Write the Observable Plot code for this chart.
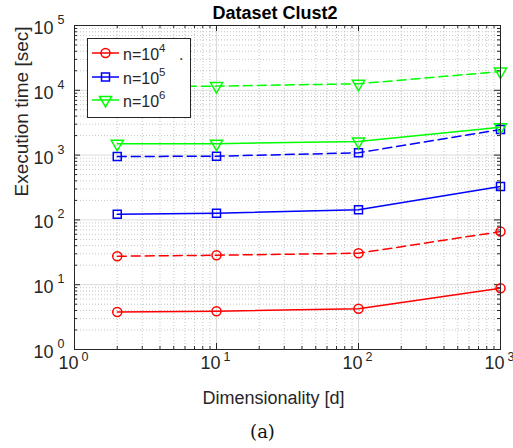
<!DOCTYPE html>
<html>
<head>
<meta charset="utf-8">
<script src="https://cdn.jsdelivr.net/npm/d3@7"></script>
<script src="https://cdn.jsdelivr.net/npm/@observablehq/plot@0.6"></script>
<style>
  html, body { margin: 0; padding: 0; background: #fff; }
  #chart svg { display: block; }
</style>
</head>
<body>
<div id="chart"></div>
<script>
// ---- data ----
const dims = [2, 10, 100, 1000];
const n4Solid  = [3.8, 3.9, 4.25, 8.8];
const n4Dashed = [27.5, 28.5, 30.6, 66];
const n5Solid  = [122, 127, 143, 327];
const n5Dashed = [951, 962, 1085, 2480];
const n6Solid  = [1494, 1500, 1622, 2690];
const n6Dashed = [11300, 11600, 12600, 19500];
const seriesColors = ["#ff0000", "#0000ff", "#00ff00"];
const seriesSymbols = ["circle", "square", "triangle"];
const legendExponents = ["4", "5", "6"];
const legendSuffix = [".", "", ""];
const xTicks = [1, 10, 100, 1000];
const yTicks = [1, 10, 100, 1000, 10000, 100000];
const titleText = "Dataset Clust2";
const xLabel = "Dimensionality [d]";
const yLabel = "Execution time [sec]";
const captionText = "(a)";

const series = [
  {values: n4Solid,  ci: 0, dashed: false},
  {values: n4Dashed, ci: 0, dashed: true},
  {values: n5Solid,  ci: 1, dashed: false},
  {values: n5Dashed, ci: 1, dashed: true},
  {values: n6Solid,  ci: 2, dashed: false},
  {values: n6Dashed, ci: 2, dashed: true}
];

const minor = (ticks) => {
  const out = [];
  for (const t of ticks.slice(0, -1)) for (let k = 2; k <= 9; k++) out.push(t * k);
  return out;
};
const xMinor = minor(xTicks);
const yMinor = minor(yTicks);

const W = 513, H = 448;
const mL = 74, mR = 13, mT = 25, mB = 99;
const fw = W - mL - mR, fh = H - mT - mB;
const axisColor = "#262626";
const sans = "'Liberation Sans', Arial, Helvetica, sans-serif";

const dataMarks = [];
for (const s of series) {
  const rows = dims.map((d, i) => ({x: d, y: s.values[i]}));
  const color = seriesColors[s.ci];
  const sym = seriesSymbols[s.ci];
  dataMarks.push(Plot.line(rows, {x: "x", y: "y", stroke: color, strokeWidth: 1.5,
    strokeDasharray: s.dashed ? "9,5" : null}));
  dataMarks.push(Plot.dot(rows, {x: "x", y: "y", symbol: sym, r: 4.5, stroke: color,
    fill: "none", strokeWidth: 1.5, rotate: sym === "triangle" ? 180 : 0}));
}

const chart = Plot.plot({
  width: W, height: H,
  marginLeft: mL, marginRight: mR, marginTop: mT, marginBottom: mB,
  style: {fontFamily: sans, background: "#fff", overflow: "visible"},
  x: {type: "log", domain: [1, 1000], axis: null},
  y: {type: "log", domain: [1, 100000], axis: null},
  marks: [
    // grids
    Plot.gridX(xMinor, {stroke: "#b8b8b8", strokeOpacity: 1, strokeWidth: 0.8, strokeDasharray: "1,2"}),
    Plot.gridY(yMinor, {stroke: "#b8b8b8", strokeOpacity: 1, strokeWidth: 0.8, strokeDasharray: "1,2"}),
    Plot.gridX(xTicks, {stroke: "#dadada", strokeOpacity: 1, strokeWidth: 1}),
    Plot.gridY(yTicks, {stroke: "#dadada", strokeOpacity: 1, strokeWidth: 1}),
    // inward ticks
    Plot.tickX(xTicks, {x: d => d, insetTop: fh - 6, stroke: axisColor}),
    Plot.tickX(xTicks, {x: d => d, insetBottom: fh - 6, stroke: axisColor}),
    Plot.tickX(xMinor, {x: d => d, insetTop: fh - 3, stroke: axisColor}),
    Plot.tickX(xMinor, {x: d => d, insetBottom: fh - 3, stroke: axisColor}),
    Plot.tickY(yTicks, {y: d => d, insetRight: fw - 6, stroke: axisColor}),
    Plot.tickY(yTicks, {y: d => d, insetLeft: fw - 6, stroke: axisColor}),
    Plot.tickY(yMinor, {y: d => d, insetRight: fw - 3, stroke: axisColor}),
    Plot.tickY(yMinor, {y: d => d, insetLeft: fw - 3, stroke: axisColor}),
    // data
    ...dataMarks,
    // frame
    Plot.frame({stroke: axisColor, strokeWidth: 1}),
    // tick labels x
    Plot.text(xTicks, {x: d => d, text: () => "10", frameAnchor: "bottom", textAnchor: "end",
      lineAnchor: "bottom", dx: 4, dy: 19, fontSize: 18, fill: axisColor}),
    Plot.text(xTicks, {x: d => d, text: d => String(Math.round(Math.log10(d))), frameAnchor: "bottom",
      textAnchor: "start", lineAnchor: "bottom", dx: 7, dy: 11, fontSize: 12.5, fill: axisColor}),
    // tick labels y
    Plot.text(yTicks, {y: d => d, text: () => "10", frameAnchor: "left", textAnchor: "end",
      lineAnchor: "bottom", dx: -21, dy: 8.5, fontSize: 18, fill: axisColor}),
    Plot.text(yTicks, {y: d => d, text: d => String(Math.round(Math.log10(d))), frameAnchor: "left",
      textAnchor: "start", lineAnchor: "bottom", dx: -17, dy: -1.5, fontSize: 12.5, fill: axisColor}),
    // axis labels
    Plot.text([xLabel], {text: d => d, frameAnchor: "bottom", lineAnchor: "bottom", dx: -14, dy: 54,
      fontSize: 18, fill: axisColor}),
    Plot.text([yLabel], {text: d => d, frameAnchor: "left", lineAnchor: "bottom", rotate: -90,
      dx: -47, dy: 9, fontSize: 19, fill: axisColor}),
    // title
    Plot.text([titleText], {text: d => d, frameAnchor: "top", lineAnchor: "bottom", dx: -12.5, dy: -7,
      fontSize: 18, fontWeight: "bold", fill: "#000"}),
    // caption
    Plot.text([captionText], {text: d => d, frameAnchor: "bottom", lineAnchor: "bottom", dx: -25, dy: 88,
      fontSize: 18, fontFamily: "DejaVu Serif", fill: "#111"})
  ]
});

document.getElementById("chart").appendChild(chart);

// ---- legend ----
const svg = d3.select(chart);
const lg = svg.append("g").attr("font-family", sans).attr("text-anchor", "start");
lg.append("rect").attr("x", 87.5).attr("y", 38.5).attr("width", 103).attr("height", 79)
  .attr("fill", "#fff").attr("stroke", axisColor).attr("stroke-width", 1);
const rowY = [53, 77, 100];
seriesColors.forEach((c, i) => {
  const y = rowY[i];
  lg.append("line").attr("x1", 92).attr("x2", 119).attr("y1", y).attr("y2", y)
    .attr("stroke", c).attr("stroke-width", 1.5);
  const symType = seriesSymbols[i] === "circle" ? d3.symbolCircle
    : seriesSymbols[i] === "square" ? d3.symbolSquare : d3.symbolTriangle;
  lg.append("path").attr("d", d3.symbol(symType, Math.PI * 4.5 * 4.5)())
    .attr("transform", `translate(105.5,${y}) rotate(${seriesSymbols[i] === "triangle" ? 180 : 0})`)
    .attr("fill", "none").attr("stroke", c).attr("stroke-width", 1.5);
  lg.append("text").attr("x", 123).attr("y", y + 7).attr("font-size", 16).attr("fill", axisColor).text("n=10");
  lg.append("text").attr("x", 159).attr("y", y - 1).attr("font-size", 11.5).attr("fill", axisColor).text(legendExponents[i]);
  if (legendSuffix[i]) lg.append("text").attr("x", 179).attr("y", y + 7).attr("font-size", 16)
    .attr("fill", axisColor).text(legendSuffix[i]);
});
</script>
</body>
</html>
